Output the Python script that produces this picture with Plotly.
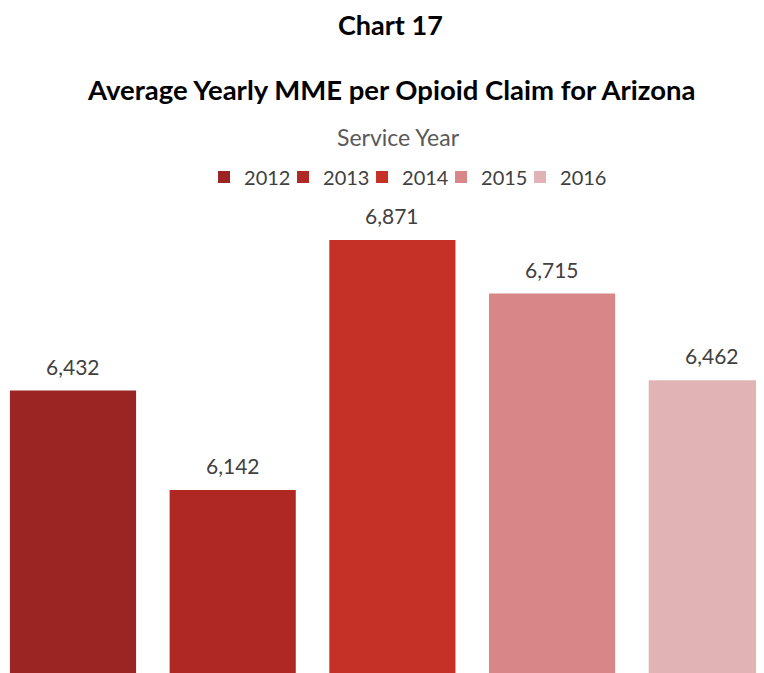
import plotly.graph_objects as go

# service years and average MME values
years = ['2012', '2013', '2014', '2015', '2016']
mme = [6432, 6142, 6871, 6715, 6462]
colors = ['#9B2522', '#B02823', '#C63127', '#D88688', '#E2B3B4']

fig = go.Figure()

# one trace per year so each gets its own legend entry
for i, (yr, val, col) in enumerate(zip(years, mme, colors)):
    fig.add_trace(go.Bar(x=[yr], y=[val], name=yr, marker_color=col,
                         marker_line_width=0, showlegend=True))
    # value labels above the bars (category position by index)
    fig.add_annotation(x=i, y=val, text=f'{val:,}', showarrow=False,
                       xref='x', yref='y', yanchor='bottom', yshift=10,
                       font=dict(size=21, color='#404040'))

# blank legend entry so the tighter entries don't get clipped at the end
fig.add_trace(go.Bar(x=[None], y=[None], name=' ', showlegend=True,
                     marker_color='rgba(0,0,0,0)', marker_line_width=0,
                     hoverinfo='skip'))

fig.add_annotation(text='<b>Chart 17</b>', xref='paper', yref='paper',
                   x=0.5066, y=1.370, showarrow=False, yanchor='middle',
                   font=dict(size=27, color='#000000'))
fig.add_annotation(text='<b>Average Yearly MME per Opioid Claim for Arizona</b>',
                   xref='paper', yref='paper', x=0.5066, y=1.2326,
                   showarrow=False, yanchor='middle',
                   font=dict(size=27.5, color='#000000'))
fig.add_annotation(text='Service Year', xref='paper', yref='paper',
                   x=0.516, y=1.1332, showarrow=False, yanchor='middle',
                   font=dict(size=23, color='#595959'))

fig.update_layout(
    width=756, height=665,
    margin=dict(l=0, r=0, t=192, b=0),
    paper_bgcolor='white', plot_bgcolor='white',
    font=dict(family='Lato, Open Sans, sans-serif', color='#404040'),
    barmode='overlay', bargap=0.21,
    legend=dict(orientation='h', x=0.2593, xanchor='left',
                y=1.0486, yanchor='middle', itemwidth=30,
                entrywidth=34, entrywidthmode='pixels',
                font=dict(size=20, color='#404040')),
    xaxis=dict(type='category', range=[-0.407, 4.327], showgrid=False,
               showticklabels=False, showline=False, zeroline=False, ticks=''),
    yaxis=dict(range=[5608, 6988], showgrid=False, showticklabels=False,
               showline=False, zeroline=False, ticks=''),
)

fig.write_html('out.html')
